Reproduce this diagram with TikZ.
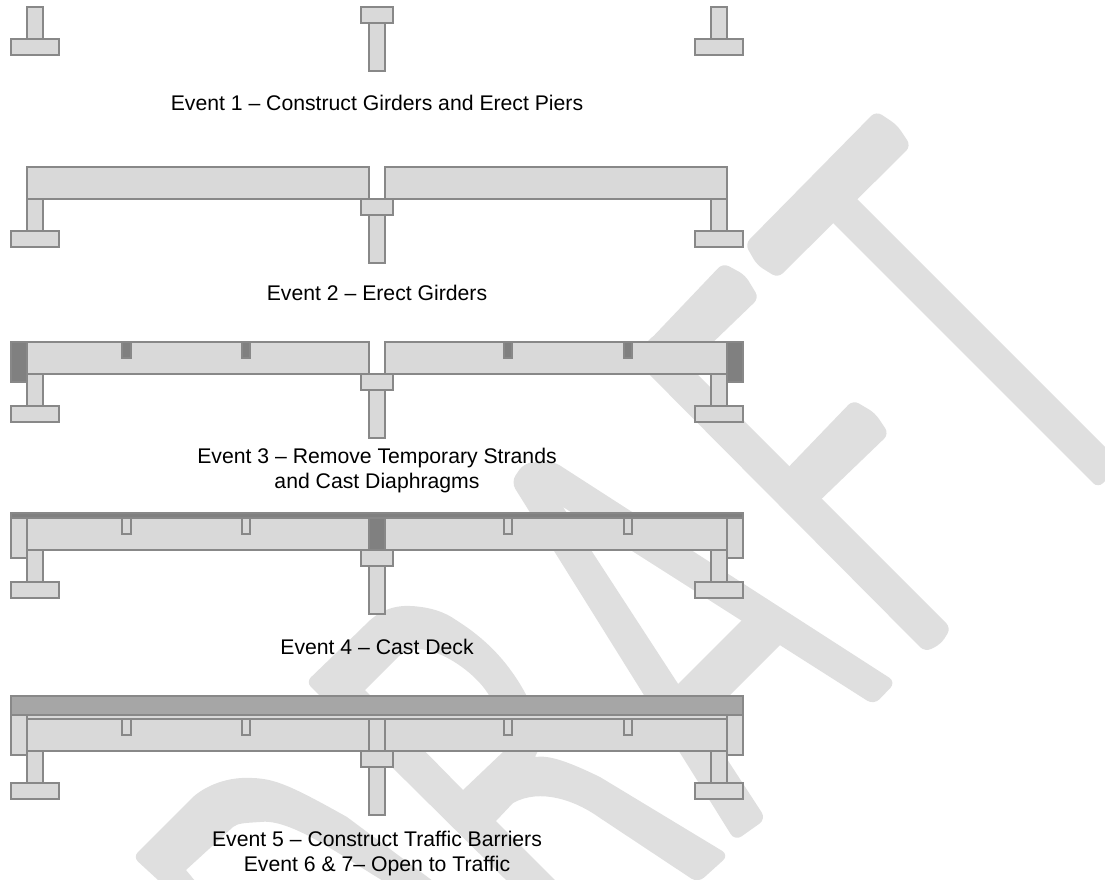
\documentclass[tikz,border=0pt]{standalone}
\usepackage{fontspec}
\setmainfont{Liberation Sans}

\definecolor{draftgray}{HTML}{DFDFDF}
\definecolor{concrete}{HTML}{D9D9D9}
\definecolor{edgegray}{HTML}{888888}
\definecolor{pourgray}{HTML}{808080}
\definecolor{deckgray}{HTML}{A6A6A6}

\tikzset{
    draftmark/.style={fill=draftgray, draw=none},
    member/.style={fill=concrete, draw=edgegray, line width=0.8pt},
    poured/.style={fill=pourgray, draw=edgegray, line width=0.8pt},
    slab/.style={fill=deckgray, draw=edgegray, line width=0.8pt},
    caption/.style={font=\fontsize{15.9}{18.75}\selectfont, align=center, inner sep=0pt}
}

% two abutments and the middle pier, y = 0 at underside of the girders
\newcommand{\supports}{
    \draw[member] (27,0) rectangle (43,32);
    \draw[member] (11,32) rectangle (59,48);
    \draw[member] (369,16) rectangle (385,64);
    \draw[member] (361,0) rectangle (393,16);
    \draw[member] (711,0) rectangle (727,32);
    \draw[member] (695,32) rectangle (743,48);
}
\newcommand{\girders}{
    \draw[member] (27,-32) rectangle (369,0);
    \draw[member] (385,-32) rectangle (727,0);
}

\begin{document}
\begin{tikzpicture}[x=0.75pt, y=-0.75pt]
\useasboundingbox (0,0) rectangle (1105,879);
\clip (0,0) rectangle (1105,879);

% ===== Watermark =====
% D
\fill[draftmark] (170,905) -- (158,880) [rounded corners=5pt] -- (133,857) -- (187,803) [sharp corners]
    .. controls (200,790) and (222,776) .. (253,778) .. controls (275,779) and (290,785) .. (347,817)
    -- (445,890) -- (445,905) -- (420,905) -- (380,879) .. controls (340,855) and (290,818) .. (260,822)
    .. controls (245,823) and (238,823) .. (233,827) -- (186,870) -- (215,905) -- cycle;
% R
\fill[draftmark, even odd rule] (601,974) [rounded corners=5pt] -- (306,682) -- (362,628) [sharp corners]
    .. controls (378,612) and (392,605) .. (411,606) .. controls (430,607) and (445,612) .. (456,620)
    .. controls (475,632) and (495,648) .. (512,672) .. controls (530,697) and (548,735) .. (535,757)
    .. controls (548,755) and (565,760) .. (600,777) [rounded corners=6pt] -- (729,855) -- (698,883) [sharp corners]
    -- (600,818) .. controls (575,800) and (540,788) .. (513,803) -- (496,821) -- (625,950) -- cycle
    (365,690) -- (398,657) .. controls (408,648) and (420,648) .. (430,651)
    .. controls (448,655) and (478,675) .. (490,697) .. controls (500,715) and (512,735) .. (505,750)
    -- (463,790) -- cycle;
% A
\fill[draftmark] (563,507) [rounded corners=6pt] -- (766,819) -- (735,841) -- (511,482) -- (524,463) -- (553,461)
    -- (896,682) -- (874,705) [sharp corners] -- cycle;
\fill[draftmark] (755,607) -- (790,635) -- (690,735) -- (665,697) -- cycle;
% F
\fill[draftmark, rounded corners=5pt] (656,333) -- (951,628) -- (941,644) -- (925,652) -- (632,357) -- cycle;
\fill[draftmark, rounded corners=5pt] (723,263) -- (745,275) -- (759,298) -- (677,377) -- (645,345) -- cycle;
\fill[draftmark, rounded corners=5pt] (853,400) -- (875,413) -- (889,434) -- (810,510) -- (778,478) -- cycle;
% T
\fill[draftmark, rounded corners=5pt] (876,111) -- (897,125) -- (911,146) -- (778,278) -- (757,265) -- (745,244) -- cycle;
\fill[draftmark, rounded corners=5pt] (839,181) -- (1122,464) -- (1098,488) -- (815,205) -- cycle;

% ===== Event 1 =====
\begin{scope}[shift={(0,7)}]
    \draw[member] (27,0) rectangle (43,32);
    \draw[member] (11,32) rectangle (59,48);
    \draw[member] (369,16) rectangle (385,64);
    \draw[member] (361,0) rectangle (393,16);
    \draw[member] (711,0) rectangle (727,32);
    \draw[member] (695,32) rectangle (743,48);
\end{scope}
\node[caption] (ev1) at (377,103) {Event 1 – Construct Girders and Erect Piers};

% ===== Event 2 =====
\begin{scope}[shift={(0,199)}]
    \supports
    \girders
\end{scope}
\node[caption] (ev2) at (377,293) {Event 2 – Erect Girders};

% ===== Event 3 =====
\begin{scope}[shift={(0,374)}]
    \supports
    \girders
    \draw[poured] (11,-32) rectangle (27,8);
    \draw[poured] (727,-32) rectangle (743,8);
    \draw[poured] (122,-32) rectangle (131,-16);
    \draw[poured] (242,-32) rectangle (250,-16);
    \draw[poured] (504,-32) rectangle (512,-16);
    \draw[poured] (624,-32) rectangle (632,-16);
\end{scope}
\node[caption] (ev3) at (377,470.5) {Event 3 – Remove Temporary Strands\\and Cast Diaphragms};

% ===== Event 4 =====
\begin{scope}[shift={(0,550)}]
    \supports
    \girders
    \draw[poured] (11,-37) rectangle (743,-32);
    \draw[member] (11,-32) rectangle (27,8);
    \draw[member] (727,-32) rectangle (743,8);
    \draw[member] (122,-32) rectangle (131,-16);
    \draw[member] (242,-32) rectangle (250,-16);
    \draw[member] (504,-32) rectangle (512,-16);
    \draw[member] (624,-32) rectangle (632,-16);
    \draw[poured] (369,-32) rectangle (385,0);
\end{scope}
\node[caption] (ev4) at (377,647) {Event 4 – Cast Deck};

% ===== Event 5 =====
\begin{scope}[shift={(0,751)}]
    \supports
    \girders
    \draw[member] (27,-36) rectangle (727,-32);
    \draw[slab] (11,-55) rectangle (743,-36);
    \draw[member] (11,-36) rectangle (27,4);
    \draw[member] (727,-36) rectangle (743,4);
    \draw[member] (122,-32) rectangle (131,-16);
    \draw[member] (242,-32) rectangle (250,-16);
    \draw[member] (504,-32) rectangle (512,-16);
    \draw[member] (624,-32) rectangle (632,-16);
    \draw[member] (369,-32) rectangle (385,0);
\end{scope}
\node[caption] (ev5) at (377,853.5) {Event 5 – Construct Traffic Barriers\\Event 6 \& 7– Open to Traffic};

\end{tikzpicture}
\end{document}
